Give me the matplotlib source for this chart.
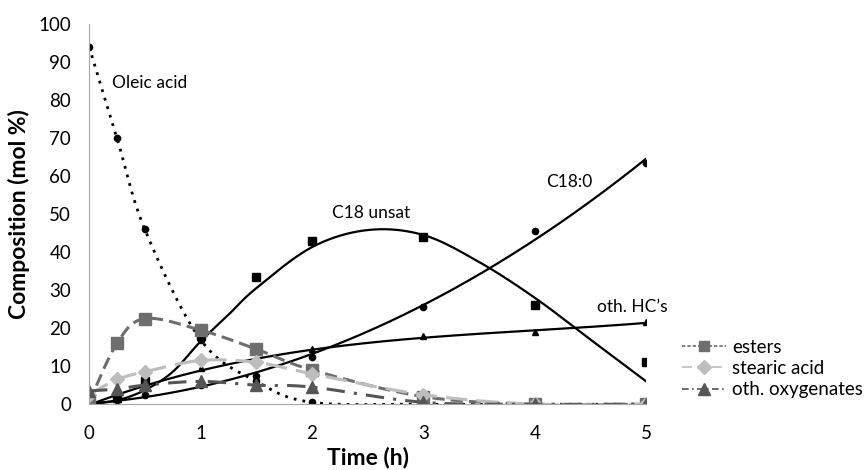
import numpy as np
import matplotlib
matplotlib.use("Agg")
import matplotlib.pyplot as plt

plt.rcParams['font.family'] = ['Lato', 'DejaVu Sans']

# tiempos de muestreo (h)
t = np.array([0, 0.25, 0.5, 1, 1.5, 2, 3, 4, 5])

# composicion (mol %)
oleic = [94, 70, 46, 17, 6, 0.5, 0, 0, 0]
c18_unsat = [0, 1.5, 6, 18, 33.5, 43, 44, 26, 11]
c18_0 = [0, 1, 2.5, 5, 7.5, 12.5, 25.5, 45.5, 63.5]
oth_hc = [0, 2, 5, 9.5, 11, 14.5, 18, 19, 21.5]
esters = [0.5, 16, 22.5, 19.5, 14.5, 9, 2, 0, 0]
stearic = [2.5, 6.5, 8.5, 11.5, 11, 8, 2.5, 0, 0]
oth_oxy = [3.5, 4, 5, 6, 5, 4.5, 0.5, 0, 0]

# curva del modelo para C18 unsat
t_mod = [0, 0.25, 0.5, 0.75, 1, 1.25, 1.5, 2, 2.5, 3, 3.5, 4, 4.5, 5]
c18_unsat_mod = [0, 1, 3.7, 8.5, 16.5, 23.5, 30.5, 41.3, 45.8, 44.5, 37.4, 28, 17, 6]


# linea suavizada como en Excel (Catmull-Rom parametrica)
def smooth(x, y, n=40):
    P = np.column_stack([x, y]).astype(float)
    P = np.vstack([P[0], P, P[-1]])
    out = []
    s = np.linspace(0, 1, n)[:, None]
    for i in range(1, len(P) - 2):
        p0, p1, p2, p3 = P[i - 1], P[i], P[i + 1], P[i + 2]
        m1 = (p2 - p0) / 2
        m2 = (p3 - p1) / 2
        h00 = 2 * s**3 - 3 * s**2 + 1
        h10 = s**3 - 2 * s**2 + s
        h01 = -2 * s**3 + 3 * s**2
        h11 = s**3 - s**2
        out.append(h00 * p1 + h10 * m1 + h01 * p2 + h11 * m2)
    c = np.vstack(out)
    return c[:, 0], c[:, 1]


# linea de tendencia polinomica
def trend(x, y, deg):
    p = np.polyfit(x, y, deg)
    xs = np.linspace(min(x), max(x), 300)
    return xs, np.polyval(p, xs)


fig = plt.figure(figsize=(8.65, 4.70), dpi=100)
ax = fig.add_axes([0.103, 0.140, 0.644, 0.809])

k = 'black'
dk = '#6e6e6e'
lt = '#bdbdbd'
ox = '#555555'

# series etiquetadas en el grafico
ax.plot(*smooth(t, oleic), color=k, linestyle=(0, (1, 2.2)), lw=2)
ax.plot(t, oleic, 'o', color=k, ms=4.5)

ax.plot(*smooth(t_mod, c18_unsat_mod), color=k, lw=1.6)
ax.plot(t, c18_unsat, 's', color=k, ms=6)

ax.plot(*trend(t, c18_0, 2), color=k, lw=1.6)
ax.plot(t, c18_0, 'o', color=k, ms=4.5)

ax.plot(*trend(t, oth_hc, 3), color=k, lw=1.6)
ax.plot(t, oth_hc, '^', color=k, ms=5)

# series de la leyenda
ax.plot(*smooth(t, esters), color=dk, linestyle=(0, (4, 2)), lw=2.2)
ax.plot(t, esters, 's', color=dk, ms=8)
ax.plot(*smooth(t, stearic), color=lt, linestyle=(0, (7, 3)), lw=2.2)
ax.plot(t, stearic, 'D', color=lt, ms=7)
ax.plot(*smooth(t, oth_oxy), color=ox, linestyle=(0, (6, 3, 1, 3)), lw=2.2)
ax.plot(t, oth_oxy, '^', color=ox, ms=8)

h1, = ax.plot([], [], color=dk, linestyle=(0, (2, 1.2)), lw=1.2, marker='s', ms=7)
h2, = ax.plot([], [], color=lt, linestyle=(0, (6, 3)), lw=1.2, marker='D', ms=7)
h3, = ax.plot([], [], color=ox, linestyle=(0, (4, 2, 1, 2)), lw=1.2, marker='^', ms=8)
fig.legend([h1, h2, h3], ['esters', 'stearic acid', 'oth. oxygenates'],
           loc='upper left', bbox_to_anchor=(0.789, 0.279), frameon=False,
           fontsize=13.5, handlelength=2.3, handletextpad=0.35, labelspacing=0.22,
           borderaxespad=0, borderpad=0)

ax.text(0.21, 84.5, 'Oleic acid', fontsize=12.5, va='center')
ax.text(2.18, 50.3, 'C18 unsat', fontsize=12.5, va='center')
ax.text(4.1, 58.4, 'C18:0', fontsize=12.5, va='center')
ax.text(4.56, 25.5, 'oth. HC\u2019s', fontsize=12.5, va='center')

ax.set_xlim(0, 5)
ax.set_ylim(0, 100)
ax.set_xticks([0, 1, 2, 3, 4, 5])
ax.set_yticks(range(0, 101, 10))
ax.tick_params(length=0, labelsize=13.5)
ax.tick_params(axis='x', pad=15)
ax.tick_params(axis='y', pad=13)
ax.set_xlabel('Time (h)', fontsize=16.5, fontweight='bold', labelpad=3)
ax.set_ylabel('Composition (mol %)', fontsize=16.5, fontweight='bold', labelpad=6)
for s in ['top', 'right']:
    ax.spines[s].set_visible(False)
for s in ['left', 'bottom']:
    ax.spines[s].set_color('#a6a6a6')
ax.patch.set_alpha(0)

fig.savefig('out.png', dpi=100)
